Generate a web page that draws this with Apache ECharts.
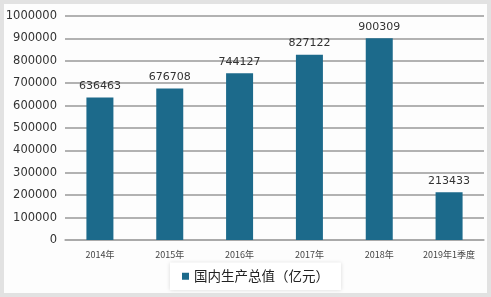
<!DOCTYPE html>
<html><head><meta charset="utf-8">
<script src="https://cdn.jsdelivr.net/npm/echarts@6/dist/echarts.min.js"></script>
<style>html,body{margin:0;padding:0;background:#fff}#c{width:491px;height:297px;box-sizing:border-box;border:4px solid #e2e2e2}</style>
</head><body><div id="c"></div>
<script>
const categories = ['2014年','2015年','2016年','2017年','2018年','2019年1季度'];
const gdpValues = [636463, 676708, 744127, 827122, 900309, 213433];
const seriesName = '国内生产总值（亿元）';
const chart = echarts.init(document.getElementById('c'));
chart.setOption({
  animation: false,
  backgroundColor: '#fdfdfd',
  grid: {left: 61, right: 3, top: 12, bottom: 53, containLabel: false, outerBoundsMode: 'none'},
  xAxis: {
    type: 'category', data: categories,
    axisLine: {lineStyle: {color: '#a8a8a8', width: 1.5}},
    axisTick: {show: false},
    axisLabel: {color: '#444', fontSize: 9, margin: 10, fontFamily: 'Noto Sans CJK SC'}
  },
  yAxis: [{
    type: 'value', min: 0, max: 1000000, interval: 100000,
    axisLine: {show: false},
    axisLabel: {color: '#333', fontSize: 11.5, margin: 8, fontFamily: 'DejaVu Sans',
      formatter: function (v) { return String(v); }},
    splitLine: {show: true, lineStyle: {color: '#999999', width: 1.5}}
  }],
  legend: {
    bottom: 3, left: 166, itemWidth: 7, itemHeight: 7, icon: 'rect', itemGap: 6,
    padding: [7, 12], backgroundColor: '#fff',
    shadowColor: 'rgba(0,0,0,0.15)', shadowBlur: 4,
    textStyle: {color: '#222', fontSize: 13.5, fontFamily: 'Noto Sans CJK SC'}
  },
  series: [{
    name: seriesName, type: 'bar', data: gdpValues, barWidth: 27,
    itemStyle: {color: '#1c6a8b'},
    label: {show: true, position: 'top', distance: 6, color: '#333', fontSize: 11, fontFamily: 'DejaVu Sans'}
  }]
});
</script></body></html>
